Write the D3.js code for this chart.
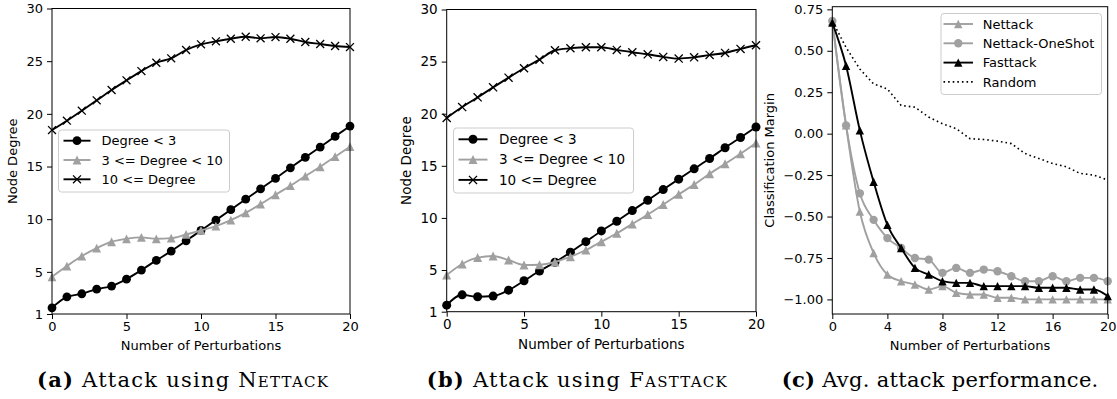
<!DOCTYPE html>
<html lang="en">
<head>
<meta charset="UTF-8">
<title>Node degree and classification margin under perturbations</title>
<style>
  html, body { margin: 0; background: #fff; }
  svg text { font-family: 'DejaVu Sans', sans-serif; fill: #000; }
  text.caption { font-family: 'DejaVu Serif', 'Liberation Serif', serif; }
  .axis path { display: none; }
  .axis line { stroke: #000; }
</style>
</head>
<body>
<svg id="chart" width="1117" height="399" viewBox="0 0 1117 399"></svg>
<script src="https://cdnjs.cloudflare.com/ajax/libs/d3/7.8.5/d3.min.js"></script>
<script>

// x values shared by every series
const perturbations = [0, 1, 2, 3, 4, 5, 6, 7, 8, 9, 10, 11, 12, 13, 14, 15, 16, 17, 18, 19, 20];

// (a) Nettack, average node degree per group
const nettackLow  = [1.59, 2.63, 2.92, 3.36, 3.65, 4.31, 5.17, 6.09, 6.97, 7.95, 8.93, 9.91, 10.9, 11.9, 12.88, 13.87, 14.88, 15.87, 16.85, 17.86, 18.84];
const nettackMid  = [4.53, 5.55, 6.5, 7.26, 7.86, 8.14, 8.27, 8.14, 8.2, 8.55, 8.93, 9.34, 9.91, 10.6, 11.43, 12.32, 13.18, 14.09, 14.98, 15.93, 16.88];
const nettackHigh = [18.46, 19.35, 20.3, 21.28, 22.26, 23.18, 24.06, 24.85, 25.27, 26.06, 26.6, 26.88, 27.13, 27.32, 27.17, 27.29, 27.13, 26.82, 26.63, 26.44, 26.34];

// (b) Fasttack
const fasttackLow  = [1.63, 2.62, 2.43, 2.5, 3.07, 3.97, 4.9, 5.74, 6.7, 7.72, 8.75, 9.68, 10.7, 11.7, 12.72, 13.72, 14.71, 15.7, 16.73, 17.72, 18.72];
const fasttackMid  = [4.52, 5.58, 6.19, 6.35, 5.96, 5.48, 5.5, 5.77, 6.28, 6.92, 7.72, 8.53, 9.42, 10.32, 11.28, 12.26, 13.2, 14.23, 15.19, 16.15, 17.18];
const fasttackHigh = [19.6, 20.64, 21.57, 22.53, 23.46, 24.36, 25.19, 26.09, 26.28, 26.38, 26.38, 26.12, 25.9, 25.7, 25.45, 25.29, 25.41, 25.64, 25.83, 26.22, 26.57];

// (c) classification margin
const marginNettack  = [0.68, 0.05, -0.47, -0.72, -0.85, -0.89, -0.91, -0.94, -0.92, -0.96, -0.97, -0.97, -0.99, -0.99, -1.0, -1.0, -1.0, -1.0, -1.0, -1.0, -1.0];
const marginOneShot  = [0.68, 0.05, -0.36, -0.52, -0.63, -0.69, -0.75, -0.76, -0.84, -0.81, -0.84, -0.82, -0.83, -0.86, -0.89, -0.89, -0.86, -0.89, -0.87, -0.87, -0.89];
const marginFasttack = [0.67, 0.41, 0.02, -0.29, -0.55, -0.69, -0.81, -0.85, -0.89, -0.90, -0.90, -0.92, -0.92, -0.92, -0.92, -0.93, -0.93, -0.93, -0.94, -0.94, -0.98];
const marginRandom   = [0.68, 0.52, 0.39, 0.30, 0.27, 0.17, 0.16, 0.10, 0.06, 0.03, -0.03, -0.035, -0.045, -0.06, -0.12, -0.15, -0.18, -0.20, -0.24, -0.25, -0.28];

const degreeNames = ["Degree < 3", "3 <= Degree < 10", "10 <= Degree"];
const marginNames = ["Nettack", "Nettack-OneShot", "Fasttack", "Random"];

const degreeTicks = [1, 5, 10, 15, 20, 25, 30];
const perturbTicksAB = [0, 5, 10, 15, 20];
const perturbTicksC = [0, 4, 8, 12, 16, 20];
const marginTicks = [0.75, 0.5, 0.25, 0, -0.25, -0.5, -0.75, -1.0];

const GRAY = "#a0a0a0";
const svg = d3.select("#chart");

function drawMarker(g, type, x, y, color, r) {
  if (type === "circle") {
    g.append("circle").attr("cx", x).attr("cy", y).attr("r", r).attr("fill", color);
  } else if (type === "triangle") {
    g.append("path")
      .attr("d", `M${x},${y - r}L${x - r},${y + r}L${x + r},${y + r}Z`)
      .attr("fill", color);
  } else if (type === "cross") {
    const s = r * 0.9;
    g.append("path")
      .attr("d", `M${x - s},${y - s}L${x + s},${y + s}M${x - s},${y + s}L${x + s},${y - s}`)
      .attr("stroke", color).attr("stroke-width", 1.3).attr("fill", "none");
  }
}

function drawPanel(p) {
  const x = d3.scaleLinear().domain([0, 20]).range([p.left, p.right]);
  const y = d3.scaleLinear().domain(p.yDomain).range([p.bottom, p.top]);
  const g = svg.append("g");

  // series
  p.series.forEach(s => {
    const pts = perturbations.map((d, i) => [d, s.values[i]]);
    const line = d3.line()
      .x(d => x(d[0])).y(d => y(d[1]))
      .curve(s.dash ? d3.curveLinear : d3.curveMonotoneX);
    g.append("path")
      .datum(pts)
      .attr("d", line)
      .attr("fill", "none")
      .attr("stroke", s.color)
      .attr("stroke-width", s.dash ? 1.6 : 1.9)
      .attr("stroke-dasharray", s.dash || null);
    if (s.marker) {
      pts.forEach(d => drawMarker(g, s.marker, x(d[0]), y(d[1]), s.color, p.markerR));
    }
  });

  // frame
  g.append("rect")
    .attr("x", p.left).attr("y", p.top)
    .attr("width", p.right - p.left).attr("height", p.bottom - p.top)
    .attr("fill", "none").attr("stroke", "#000").attr("stroke-width", 1);

  // axes
  g.append("g").attr("class", "axis")
    .attr("transform", `translate(0,${p.bottom})`)
    .call(d3.axisBottom(x).tickValues(p.xTicks).tickSize(5).tickPadding(3).tickFormat(d3.format("d")))
    .selectAll("text").attr("font-size", p.font).attr("font-family", "DejaVu Sans");

  g.append("g").attr("class", "axis")
    .attr("transform", `translate(${p.left},0)`)
    .call(d3.axisLeft(y).tickValues(p.yTicks).tickSize(5).tickPadding(4).tickFormat(p.yFormat))
    .selectAll("text").attr("font-size", p.font).attr("font-family", "DejaVu Sans");

  // axis titles
  g.append("text")
    .attr("x", (p.left + p.right) / 2).attr("y", p.xTitleY)
    .attr("text-anchor", "middle").attr("font-size", p.font)
    .text("Number of Perturbations");
  g.append("text")
    .attr("transform", `translate(${p.yTitleX},${(p.top + p.bottom) / 2}) rotate(-90)`)
    .attr("text-anchor", "middle").attr("font-size", p.font)
    .text(p.yTitle);

  // legend
  const L = p.legend;
  g.append("rect")
    .attr("x", L.x).attr("y", L.y).attr("width", L.w).attr("height", L.h)
    .attr("rx", 3).attr("fill", "#fff").attr("fill-opacity", 0.8)
    .attr("stroke", "#cccccc").attr("stroke-width", 1);
  p.series.forEach((s, i) => {
    const cy = L.y + L.first + i * L.step;
    g.append("line")
      .attr("x1", L.x + L.hx0).attr("x2", L.x + L.hx1)
      .attr("y1", cy).attr("y2", cy)
      .attr("stroke", s.color).attr("stroke-width", s.dash ? 1.6 : 1.9)
      .attr("stroke-dasharray", s.dash || null);
    if (s.marker) drawMarker(g, s.marker, L.x + (L.hx0 + L.hx1) / 2, cy, s.color, p.markerR);
    g.append("text")
      .attr("x", L.x + L.tx).attr("y", cy).attr("dy", "0.36em")
      .attr("font-size", p.font)
      .text(s.name);
  });

  // caption
  const cap = svg.append("text")
    .attr("class", "caption")
    .attr("x", p.capX - p.capW / 2).attr("y", 387)
    .attr("font-size", 21)
    .attr("textLength", p.capW)
    .attr("lengthAdjust", "spacing");
  cap.append("tspan").attr("font-weight", "bold").text(p.capLabel);
  cap.append("tspan").text(p.capText);
  if (p.capSc) cap.append("tspan").style("font-variant", "small-caps").text(p.capSc);
}

drawPanel({
  left: 52, right: 350, top: 8.5, bottom: 314,
  yDomain: [1, 30], yTicks: degreeTicks, xTicks: perturbTicksAB, yFormat: d3.format("d"),
  font: 13, markerR: 4.4, xTitleY: 350, yTitleX: 17, yTitle: "Node Degree",
  series: [
    { name: degreeNames[0], values: nettackLow, color: "#000", marker: "circle" },
    { name: degreeNames[1], values: nettackMid, color: GRAY, marker: "triangle" },
    { name: degreeNames[2], values: nettackHigh, color: "#000", marker: "cross" }
  ],
  legend: { x: 58.5, y: 130, w: 171, h: 62, first: 10.7, step: 19.3, hx0: 5, hx1: 32, tx: 43 },
  capX: 182.5, capW: 291, capLabel: "(a)", capText: " Attack using ", capSc: "Nettack"
});

drawPanel({
  left: 446.7, right: 756, top: 9.5, bottom: 311.7,
  yDomain: [1, 30], yTicks: degreeTicks, xTicks: perturbTicksAB, yFormat: d3.format("d"),
  font: 13.5, markerR: 4.5, xTitleY: 349, yTitleX: 411, yTitle: "Node Degree",
  series: [
    { name: degreeNames[0], values: fasttackLow, color: "#000", marker: "circle" },
    { name: degreeNames[1], values: fasttackMid, color: GRAY, marker: "triangle" },
    { name: degreeNames[2], values: fasttackHigh, color: "#000", marker: "cross" }
  ],
  legend: { x: 453.5, y: 128, w: 180, h: 65, first: 11.3, step: 20.3, hx0: 5, hx1: 34, tx: 45.5 },
  capX: 576.7, capW: 300, capLabel: "(b)", capText: " Attack using ", capSc: "Fasttack"
});

drawPanel({
  left: 832.3, right: 1107.7, top: 6.7, bottom: 314,
  yDomain: [-1.088, 0.766], yTicks: marginTicks, xTicks: perturbTicksC, yFormat: d3.format(".2f"),
  font: 13, markerR: 4.2, xTitleY: 350, yTitleX: 774, yTitle: "Classification Margin",
  series: [
    { name: marginNames[0], values: marginNettack, color: GRAY, marker: "triangle" },
    { name: marginNames[1], values: marginOneShot, color: GRAY, marker: "circle" },
    { name: marginNames[2], values: marginFasttack, color: "#000", marker: "triangle" },
    { name: marginNames[3], values: marginRandom, color: "#000", dash: "1.6,3" }
  ],
  legend: { x: 941, y: 13.5, w: 160.5, h: 81, first: 10.5, step: 19.3, hx0: 2.5, hx1: 32, tx: 41.7 },
  capX: 940, capW: 316.6, capLabel: "(c)", capText: " Avg. attack performance."
});

</script>
</body>
</html>
